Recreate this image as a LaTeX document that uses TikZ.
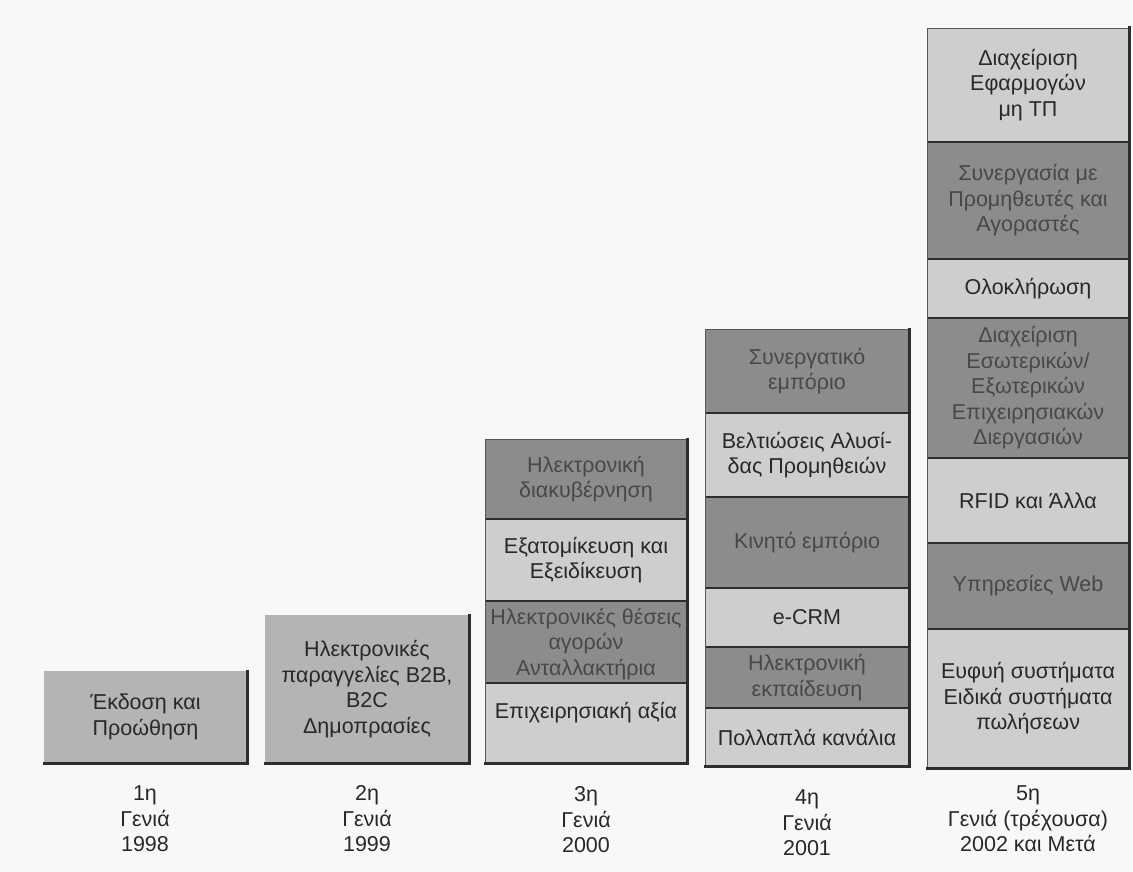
\documentclass[tikz,border=0pt]{standalone}
\usepackage{fontspec}
\setmainfont{Liberation Sans}
\definecolor{bgc}{RGB}{248,248,248}
\definecolor{lightc}{RGB}{206,206,206}
\definecolor{darkc}{RGB}{140,140,140}
\definecolor{midc}{RGB}{180,180,180}
\definecolor{edgec}{RGB}{45,45,45}
\definecolor{ltext}{RGB}{40,40,40}
\definecolor{dtext}{RGB}{72,72,72}
\tikzset{
  cellbox/.style={rectangle, inner sep=0pt, outer sep=0pt, align=center,
    font=\fontsize{21.5}{25.5}\selectfont},
  lt/.style={cellbox, fill=lightc, text=ltext},
  dk/.style={cellbox, fill=darkc, text=dtext},
  md/.style={cellbox, fill=midc, text=ltext},
  divline/.style={draw=edgec, line width=2pt},
  thinedge/.style={draw=edgec!80, line width=0.8pt},
  shadowedge/.style={draw=edgec, line width=3pt, line cap=rect},
  gen/.style={align=center, inner sep=0pt, text=ltext,
    font=\fontsize{21.5}{25.5}\selectfont}
}
\newcommand\cellnode[7]{%
  \node[#2, minimum width={(#5-#3)*1pt}, minimum height={(#6-#4)*1pt}]
    (#1) at ({(#3+#5)/2},{(#4+#6)/2}) {#7};}
\begin{document}
\begin{tikzpicture}[x=1pt,y=-1pt]
\useasboundingbox (0,0) rectangle (1133,872);
\fill[bgc] (0,0) rectangle (1133,872);

% ---------- column 1 ----------
\cellnode{c1a}{md}{44}{671}{247}{763}{Έκδοση και\\Προώθηση}
% ---------- column 2 ----------
\cellnode{c2a}{md}{265}{615}{469}{763}{Ηλεκτρονικές\\παραγγελίες B2B,\\B2C\\Δημοπρασίες}

% ---------- column 3 ----------
\cellnode{c3a}{dk}{485}{439}{687}{519}{Ηλεκτρονική\\διακυβέρνηση}
\cellnode{c3b}{lt}{485}{519}{687}{601}{Εξατομίκευση και\\Εξειδίκευση}
\cellnode{c3c}{dk}{485}{601}{687}{683}{}
\begin{scope}
  \clip (c3c.north west) rectangle (c3c.south east);
  \node[gen, text=dtext] (c3ct) at ([yshift=-2pt]c3c.center) {Ηλεκτρονικές θέσεις\\αγορών\\Ανταλλακτήρια};
\end{scope}
\cellnode{c3d}{lt}{485}{683}{687}{763}{Επιχειρησιακή αξία\\\mbox{}}

% ---------- column 4 ----------
\cellnode{c4a}{dk}{705}{329}{909}{413}{Συνεργατικό\\εμπόριο}
\cellnode{c4b}{lt}{705}{413}{909}{497}{Βελτιώσεις Αλυσί-\\δας Προμηθειών}
\cellnode{c4c}{dk}{705}{497}{909}{588}{Κινητό εμπόριο}
\cellnode{c4d}{lt}{705}{588}{909}{647}{e-CRM}
\cellnode{c4e}{dk}{705}{647}{909}{708}{Ηλεκτρονική\\εκπαίδευση}
\cellnode{c4f}{lt}{705}{708}{909}{766}{Πολλαπλά κανάλια}

% ---------- column 5 ----------
\cellnode{c5a}{lt}{927}{28}{1129}{142}{Διαχείριση\\Εφαρμογών\\μη ΤΠ}
\cellnode{c5b}{dk}{927}{142}{1129}{259}{Συνεργασία με\\Προμηθευτές και\\Αγοραστές}
\cellnode{c5c}{lt}{927}{259}{1129}{318}{Ολοκλήρωση}
\cellnode{c5d}{dk}{927}{318}{1129}{458}{Διαχείριση\\Εσωτερικών/\\Εξωτερικών\\Επιχειρησιακών\\Διεργασιών}
\cellnode{c5e}{lt}{927}{458}{1129}{543}{RFID και Άλλα}
\cellnode{c5f}{dk}{927}{543}{1129}{629}{Υπηρεσίες Web}
\cellnode{c5g}{lt}{927}{629}{1129}{768}{Ευφυή συστήματα\\Ειδικά συστήματα\\πωλήσεων}

% ---------- division lines ----------
\foreach \u in {c3a,c3b,c3c,c4a,c4b,c4c,c4d,c4e,c5a,c5b,c5c,c5d,c5e,c5f}
  \draw[divline] (\u.south west) -- (\u.south east);

% ---------- outer edges ----------
\draw[thinedge] (c3d.south west) -- (c3a.north west) -- (c3a.north east);
\draw[thinedge] (c4f.south west) -- (c4a.north west) -- (c4a.north east);
\draw[thinedge] (c5g.south west) -- (c5a.north west) -- (c5a.north east);
\draw[shadowedge] (c1a.north east) -- (c1a.south east) -- (c1a.south west);
\draw[shadowedge] (c2a.north east) -- (c2a.south east) -- (c2a.south west);
\draw[shadowedge] (c3a.north east) -- (c3d.south east) -- (c3d.south west);
\draw[shadowedge] (c4a.north east) -- (c4f.south east) -- (c4f.south west);
\draw[shadowedge] (c5a.north east) -- (c5g.south east) -- (c5g.south west);

% ---------- generation labels ----------
\node[gen] (g1) at (145,819) {1η\\Γενιά\\1998};
\node[gen] (g2) at (367,819) {2η\\Γενιά\\1999};
\node[gen] (g3) at (586,820) {3η\\Γενιά\\2000};
\node[gen] (g4) at (807,823) {4η\\Γενιά\\2001};
\node[gen] (g5) at (1028,819) {5η\\Γενιά (τρέχουσα)\\2002 και Μετά};
\end{tikzpicture}
\end{document}
